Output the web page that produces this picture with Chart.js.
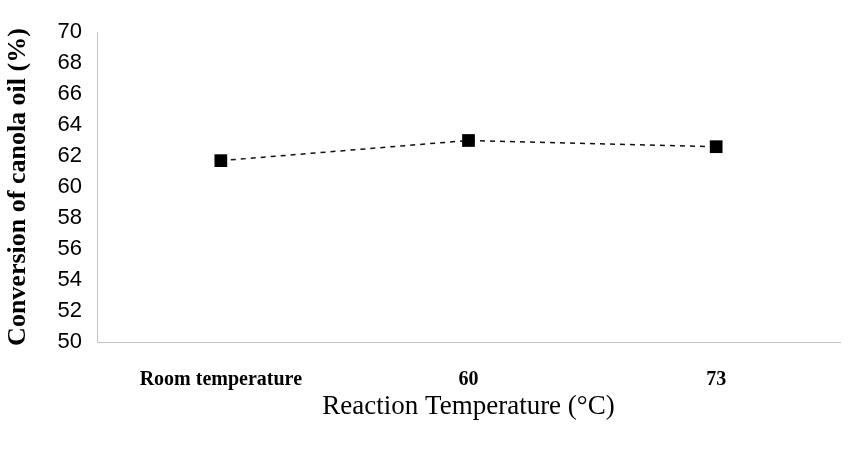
<!DOCTYPE html>
<html>
<head>
<meta charset="utf-8">
<script src="https://cdn.jsdelivr.net/npm/chart.js@4"></script>
<style>
  html, body { margin: 0; padding: 0; background: #fff; }
  #wrap { width: 849px; height: 450px; }
</style>
</head>
<body>
<div id="wrap"><canvas id="convChart" width="849" height="450"></canvas></div>
<script>
const categories = ['Room temperature', '60', '73'];
const conversion = [61.7, 63.0, 62.6];
const yMin = 50;
const yMax = 70;
const yStep = 2;

const ctx = document.getElementById('convChart').getContext('2d');

new Chart(ctx, {
    type: 'line',
    data: {
        labels: categories,
        datasets: [{
            label: 'Conversion',
            data: conversion,
            borderColor: '#111',
            borderWidth: 1.5,
            borderDash: [5, 5],
            backgroundColor: '#000',
            pointStyle: 'rect',
            pointRadius: 9,
            pointBorderWidth: 0,
            tension: 0,
            fill: false
        }]
    },
    options: {
        responsive: false,
        animation: false,
        layout: { padding: { top: 32, right: 4, bottom: 0, left: 0 } },
        plugins: {
            legend: { display: false },
            tooltip: { enabled: false }
        },
        scales: {
            x: {
                offset: true,
                afterFit: scale => { scale.height = 108; },
                grid: { display: false, drawTicks: false },
                border: { display: true, color: '#c4c4c4', width: 1, dash: [2, 6] },
                ticks: {
                    padding: 26,
                    color: '#000',
                    font: { family: '"Liberation Serif", "Times New Roman", serif', size: 20, weight: 'bold' }
                },
                title: {
                    display: true,
                    text: 'Reaction Temperature (°C)',
                    color: '#000',
                    padding: { top: 0, bottom: 27 },
                    font: { family: '"Liberation Serif", "Times New Roman", serif', size: 27 }
                }
            },
            y: {
                min: yMin,
                max: yMax,
                afterFit: scale => { scale.width = 97; },
                grid: { display: false, drawTicks: false },
                border: { display: true, color: '#c4c4c4', width: 1, dash: [2, 5] },
                ticks: {
                    stepSize: yStep,
                    padding: 15,
                    color: '#000',
                    font: { family: '"Liberation Sans", Arial, sans-serif', size: 22 }
                },
                title: {
                    display: true,
                    text: 'Conversion of canola oil (%)',
                    color: '#000',
                    padding: { top: 3, bottom: 0 },
                    font: { family: '"Liberation Serif", "Times New Roman", serif', size: 26, weight: 'bold' }
                }
            }
        }
    }
});
</script>
</body>
</html>
